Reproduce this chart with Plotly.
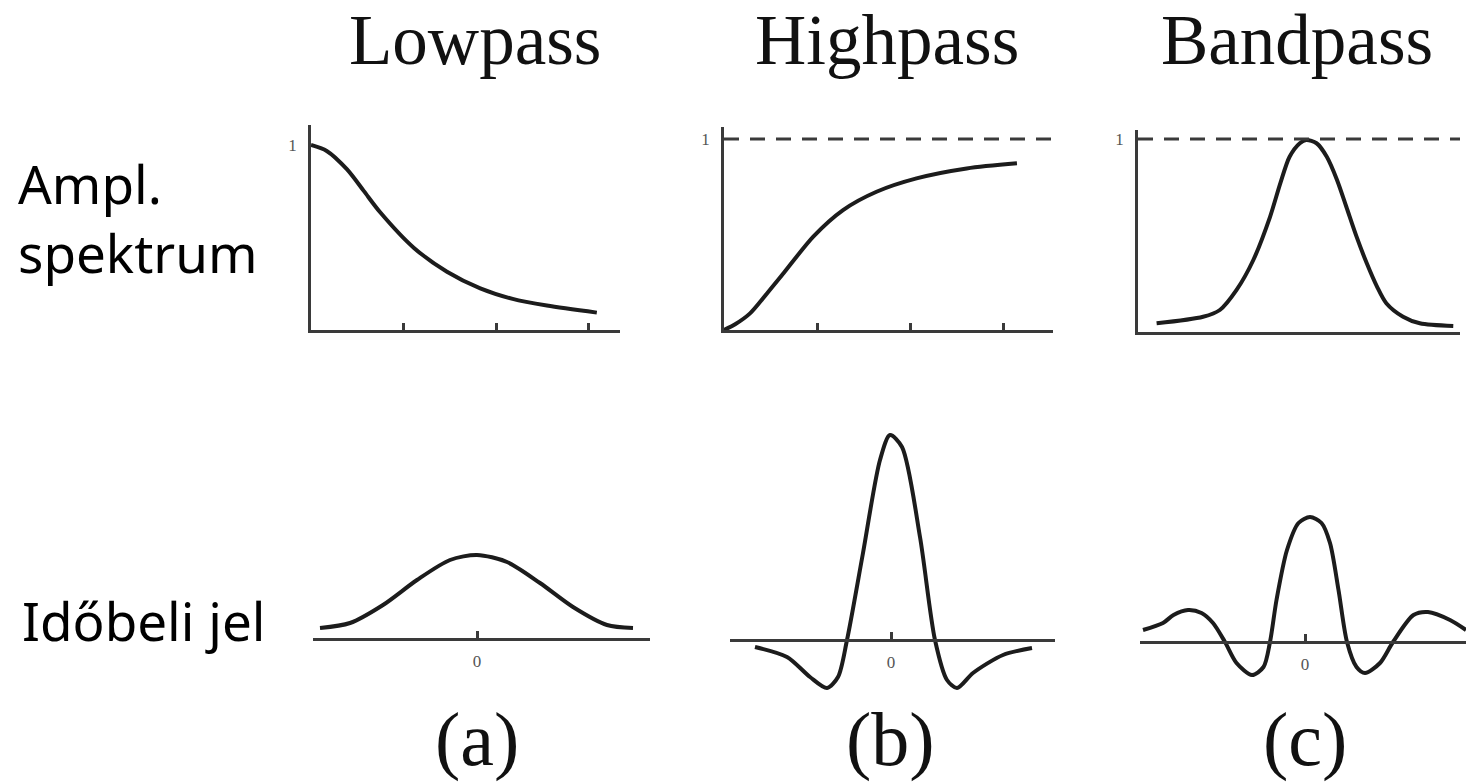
import plotly.graph_objects as go

W, H = 1466, 782

# ---------------- data ----------------
# Top row: amplitude spectra (frequency in tick units, amplitude 0..1)
low_f = [0.0, 0.17, 0.39, 0.57, 0.75, 1.11, 1.47, 1.83, 2.18, 2.55, 3.09]
low_a = [1.0, 0.968, 0.868, 0.752, 0.635, 0.445, 0.315, 0.225, 0.168, 0.132, 0.094]

high_f = [0.0, 0.12, 0.28, 0.46, 0.64, 0.96, 1.28, 1.64, 2.07, 2.61, 3.15]
high_a = [0.0, 0.03, 0.087, 0.19, 0.297, 0.489, 0.628, 0.724, 0.794, 0.846, 0.873]

band_f = [0.2, 0.70, 0.88, 1.06, 1.24, 1.42, 1.53, 1.63, 1.74, 1.81, 1.92, 2.03, 2.14, 2.24,
          2.35, 2.46, 2.57, 2.67, 2.85, 3.03, 3.39]
band_a = [0.045, 0.079, 0.114, 0.218, 0.373, 0.597, 0.77, 0.908, 0.978, 0.995, 0.978, 0.908,
          0.788, 0.649, 0.494, 0.356, 0.235, 0.149, 0.079, 0.045, 0.031]

# Bottom row: time signals (time, relative amplitude)
low_t = [-3.14, -2.54, -1.88, -1.2, -0.54, 0.0, 0.6, 1.26, 1.92, 2.6, 3.12]
low_v = [0.11, 0.16, 0.34, 0.59, 0.79, 0.84, 0.77, 0.56, 0.32, 0.14, 0.11]

high_t = [-2.72, -2.08, -1.62, -1.28, -1.06, -0.88, -0.56, -0.22, -0.02, 0.22, 0.58, 0.88, 1.12, 1.32, 1.64, 2.24, 2.82]
high_v = [-0.07, -0.17, -0.37, -0.48, -0.37, 0.0, 0.87, 1.80, 2.05, 1.93, 1.03, 0.0, -0.40, -0.48, -0.33, -0.15, -0.08]

band_t = [-3.24, -2.84, -2.63, -2.34, -2.07, -1.84, -1.6, -1.37, -1.06, -0.83, -0.7, -0.57, -0.36,
          -0.13, 0.1, 0.33, 0.5, 0.67, 0.84, 1.03, 1.2, 1.5, 1.76, 2.17, 2.46, 2.9, 3.22]
band_v = [0.12, 0.19, 0.27, 0.32, 0.29, 0.19, 0.0, -0.21, -0.33, -0.25, 0.0, 0.42, 0.92,
          1.19, 1.25, 1.19, 0.99, 0.52, 0.0, -0.25, -0.31, -0.21, 0.0, 0.27, 0.30, 0.22, 0.12]

col_titles = ["Lowpass", "Highpass", "Bandpass"]
sub_labels = ["(a)", "(b)", "(c)"]
row_labels = ["Ampl.<br>spektrum", "Időbeli jel"]
freq_ticks = [1, 2, 3]
level_ticks = [1]
time_ticks = [0]

# ---------------- helpers ----------------
def px_x(p):
    return p / W

def px_y(p):
    return 1 - p / H

CURVE = dict(color="#1c1c1c", width=4, shape="spline", smoothing=0.8)
AXC = "#3a3a3a"
SERIF = "Liberation Serif"
SANS = "Noto Sans"

fig = go.Figure()

fig.add_trace(go.Scatter(x=low_f, y=low_a, mode="lines", line=CURVE, xaxis="x", yaxis="y"))
fig.add_trace(go.Scatter(x=high_f, y=high_a, mode="lines", line=CURVE, xaxis="x2", yaxis="y2"))
fig.add_trace(go.Scatter(x=band_f, y=band_a, mode="lines", line=CURVE, xaxis="x3", yaxis="y3"))
fig.add_trace(go.Scatter(x=low_t, y=low_v, mode="lines", line=CURVE, xaxis="x4", yaxis="y4"))
fig.add_trace(go.Scatter(x=high_t, y=high_v, mode="lines", line=CURVE, xaxis="x5", yaxis="y5"))
fig.add_trace(go.Scatter(x=band_t, y=band_v, mode="lines", line=CURVE, xaxis="x6", yaxis="y6"))

# ---------- top row axes ----------
top_panels = [
    (311, 620, 330, 125, 92.5, 185, True),
    (724, 1053, 330, 127, 93.0, 191, True),
    (1138, 1460, 332, 130, 93.0, 193, False),
]
layout = {}
for i, (xl, xr, yb, yt, sx, sy, has_ticks) in enumerate(top_panels, start=1):
    xn = "xaxis" if i == 1 else f"xaxis{i}"
    yn = "yaxis" if i == 1 else f"yaxis{i}"
    layout[xn] = dict(
        domain=[px_x(xl), px_x(xr)], range=[0, (xr - xl) / sx],
        anchor="y" if i == 1 else f"y{i}",
        showline=True, linewidth=2.5, linecolor=AXC, showgrid=False, zeroline=False,
        tickvals=freq_ticks if has_ticks else [], ticks="inside" if has_ticks else "",
        ticklen=7, tickwidth=2.5, tickcolor=AXC, showticklabels=False, fixedrange=True,
    )
    layout[yn] = dict(
        domain=[px_y(yb), px_y(yt)], range=[0, (yb - yt) / sy],
        anchor="x" if i == 1 else f"x{i}",
        showline=True, linewidth=2.5, linecolor=AXC, showgrid=False, zeroline=False,
        tickvals=level_ticks, ticktext=[str(v) for v in level_ticks], ticks="",
        ticklabelstandoff=8,
        tickfont=dict(family=SERIF, size=17, color="#555"), fixedrange=True,
    )

# ---------- bottom row axes ----------
bottom_panels = [
    (313, 650, 477, 639),
    (730, 1055, 891, 640),
    (1140, 1466, 1305, 642),
]
SX, SY = 50.0, 100.0
YT, YB = 420, 700
for j, (xl, xr, x0, base) in enumerate(bottom_panels, start=4):
    layout[f"xaxis{j}"] = dict(
        domain=[px_x(xl), px_x(xr)], range=[(xl - x0) / SX, (xr - x0) / SX],
        anchor="free", position=px_y(base),
        showline=True, linewidth=2.5, linecolor=AXC, showgrid=False, zeroline=False,
        tickvals=time_ticks, ticktext=[str(v) for v in time_ticks],
        ticks="inside", ticklen=7, tickwidth=2.5, tickcolor=AXC,
        ticklabelstandoff=6,
        tickfont=dict(family=SERIF, size=17, color="#555"), fixedrange=True,
    )
    layout[f"yaxis{j}"] = dict(
        domain=[px_y(YB), px_y(YT)], range=[(base - YB) / SY, (base - YT) / SY],
        anchor=f"x{j}", visible=False, fixedrange=True,
    )

fig.update_layout(**layout)

for k in (2, 3):
    fig.add_shape(type="line", xref=f"x{k} domain", yref=f"y{k}", x0=0, x1=1, y0=1, y1=1,
                  line=dict(color="#3a3a3a", width=3, dash="15px,11px"))

title_x = [475, 887, 1297]
for tx, t in zip(title_x, col_titles):
    fig.add_annotation(text=t, x=px_x(tx), y=px_y(40), xref="paper", yref="paper",
                       showarrow=False, xanchor="center", yanchor="middle",
                       font=dict(family=SERIF, size=71, color="#111"))
for sx_, s in zip([477, 890, 1305], sub_labels):
    fig.add_annotation(text=s, x=px_x(sx_), y=px_y(739), xref="paper", yref="paper",
                       showarrow=False, xanchor="center", yanchor="middle",
                       font=dict(family=SERIF, size=76, color="#111"))

for txt, yy, xx in zip(row_labels, [218, 620], [16, 20]):
    fig.add_annotation(text=txt, x=px_x(xx), y=px_y(yy), xref="paper", yref="paper",
                       showarrow=False, xanchor="left", yanchor="middle", align="left",
                       font=dict(family=SANS, size=53, color="#000"))

fig.update_layout(
    width=W, height=H, margin=dict(l=0, r=0, t=0, b=0),
    paper_bgcolor="white", plot_bgcolor="white", showlegend=False,
)

fig.write_html("out.html", config={"displayModeBar": False},
               post_script="document.body.style.margin='0px';document.body.style.overflow='hidden';")
